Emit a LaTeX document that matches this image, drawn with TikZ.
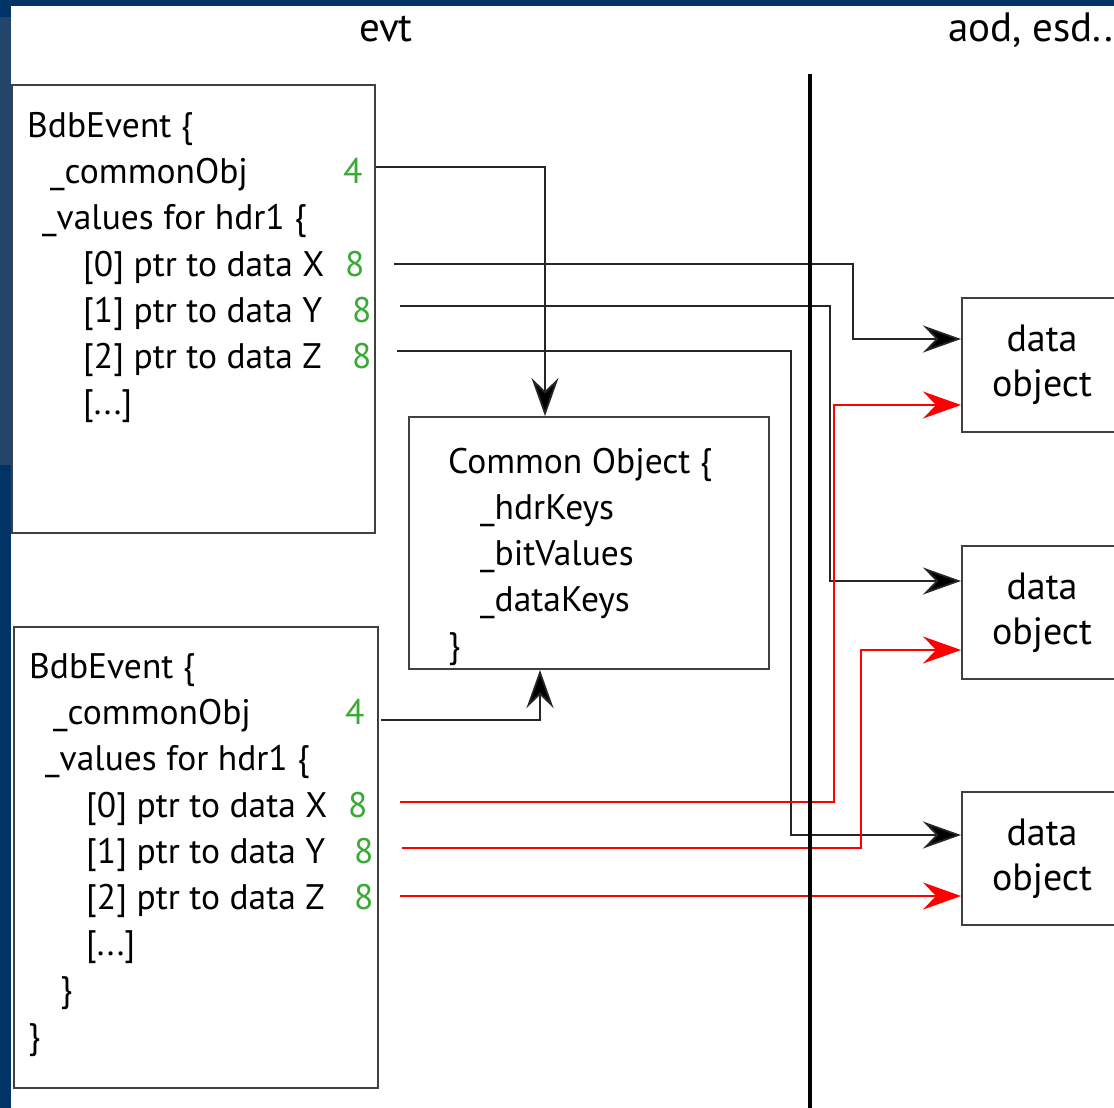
\documentclass[tikz,border=0pt]{standalone}
\usepackage{fontspec}
\setmainfont{PT Sans}
\usetikzlibrary{arrows.meta}
\definecolor{bgdark}{HTML}{003366}
\definecolor{bglight}{HTML}{23446B}
\definecolor{numgreen}{HTML}{3AAA35}
\begin{document}
\begin{tikzpicture}[x=1pt,y=-1pt,
  box/.style={draw=black!75,line width=2pt,fill=white,inner sep=0pt},
  txt/.style={anchor=base west,inner sep=0pt,font=\fontsize{35.5}{40}\selectfont},
  ttl/.style={anchor=base west,inner sep=0pt,font=\fontsize{41}{45}\selectfont},
  num/.style={txt,text=numgreen},
  dat/.style={box,minimum width=160pt,align=center,font=\fontsize{38}{45}\selectfont},
  conn/.style={draw=black!85,line width=1.8pt},
  rconn/.style={draw=red,line width=1.6pt},
  tip/.style={-{Stealth[length=38pt,width=27pt,inset=13pt,fill=black]}},
  rtip/.style={-{Stealth[length=38pt,width=27pt,inset=13pt]}}
]
\useasboundingbox (0,0) rectangle (1114,1108);
\clip (0,0) rectangle (1114,1108);
% background
\fill[bgdark] (0,0) rectangle (1114,1108);
\fill[bglight] (0,17) rectangle (11,465);
\fill[white] (11,6) rectangle (1114,1108);

% titles
\node[ttl] (tevt) at (359,42) {evt};
\node[ttl] (taod) at (948,42) {aod, esd..};

% boxes
\node[box,minimum width=363pt,minimum height=448pt] (ev1) at (193.5,309) {};
\node[box,minimum width=364pt,minimum height=461pt] (ev2) at (196,857.5) {};
\node[box,minimum width=360pt,minimum height=252pt] (co) at (589,543) {};
\node[dat,minimum height=134pt] (d1) at (1042,365) {data\\object};
\node[dat,minimum height=133pt] (d2) at (1042,612.5) {data\\object};
\node[dat,minimum height=133pt] (d3) at (1042,858.5) {data\\object};

% event 1 text
\node[txt] (a1) at (27,137) {BdbEvent \{};
\node[txt] (a2) at (50,183) {\_commonObj};
\node[txt] (a3) at (42,229) {\_values for hdr1 \{};
\node[txt] (a4) at (83,276) {[0] ptr to data X};
\node[txt] (a5) at (83,322) {[1] ptr to data Y};
\node[txt] (a6) at (83,368) {[2] ptr to data Z};
\node[txt] (a7) at (83,414) {[...]};
\node[num] (n1) at (343,183) {4};
\node[num] (n2) at (345,276) {8};
\node[num] (n3) at (352,322) {8};
\node[num] (n4) at (352,368) {8};

% event 2 text
\node[txt] (b1) at (29,678) {BdbEvent \{};
\node[txt] (b2) at (53,724) {\_commonObj};
\node[txt] (b3) at (45,770) {\_values for hdr1 \{};
\node[txt] (b4) at (86,817) {[0] ptr to data X};
\node[txt] (b5) at (86,863) {[1] ptr to data Y};
\node[txt] (b6) at (86,909) {[2] ptr to data Z};
\node[txt] (b7) at (86,955) {[...]};
\node[txt] (b8) at (60,1001) {\}};
\node[txt] (b9) at (28,1048) {\}};
\node[num] (m1) at (345,724) {4};
\node[num] (m2) at (348,817) {8};
\node[num] (m3) at (354,863) {8};
\node[num] (m4) at (354,909) {8};

% common object text
\node[txt] (c1) at (448,473) {Common Object \{};
\node[txt] (c2) at (480,519) {\_hdrKeys};
\node[txt] (c3) at (480,565) {\_bitValues};
\node[txt] (c4) at (480,611) {\_dataKeys};
\node[txt] (c5) at (448,657) {\}};

% connector start points
\coordinate (s1) at (376,167);
\coordinate (s2) at (394,264);
\coordinate (s3) at (400,306);
\coordinate (s4) at (397,351);
\coordinate (t1) at (381,720);
\coordinate (t2) at (400,802);
\coordinate (t3) at (402,848);
\coordinate (t4) at (400,896);

% black connectors
\draw[conn,tip] (s1) -| ([xshift=-44pt]co.north);
\draw[conn,tip] (t1) -| ([xshift=-49pt]co.south);
\draw[conn,tip] (s2) -| (853,339) -- ([yshift=26pt]d1.west);
\draw[conn,tip] (s3) -| (830,581) -- ([yshift=31.5pt]d2.west);
\draw[conn,tip] (s4) -| (791,835) -- ([yshift=23.5pt]d3.west);

% red connectors
\draw[rconn,rtip] (t2) -| (834,405) -- ([yshift=-40pt]d1.west);
\draw[rconn,rtip] (t3) -| (861,650) -- ([yshift=-37.5pt]d2.west);
\draw[rconn,rtip] (t4) -- ([yshift=-37.5pt]d3.west);

% divider
\draw[line width=4pt] (810,74) -- (810,1108);
\end{tikzpicture}
\end{document}
